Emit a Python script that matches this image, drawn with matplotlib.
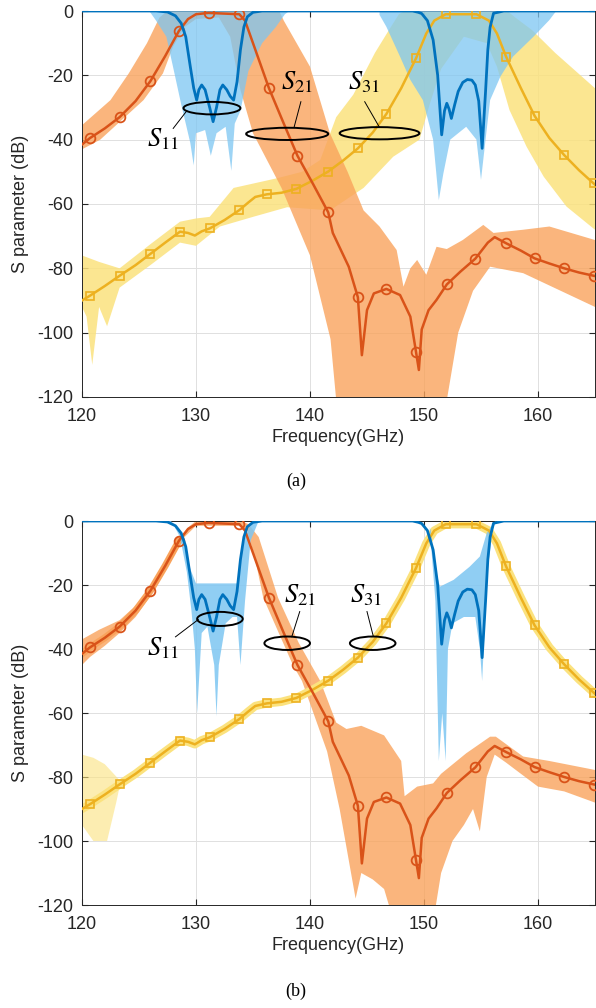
import numpy as np
import matplotlib
matplotlib.use("Agg")
import matplotlib.pyplot as plt
from matplotlib.patches import Ellipse

plt.rcParams["font.family"] = ["Liberation Sans", "DejaVu Sans"]
plt.rcParams["mathtext.fontset"] = "stix"
plt.rcParams["axes.unicode_minus"] = False

# nominal responses (GHz, dB), same design in both panels
s11_f = [120, 126.5, 127.5, 128.2, 128.7, 129.1, 129.5, 129.8, 130.06, 130.25, 130.5, 130.8, 131.2, 131.5,
         131.8, 132.1, 132.35, 132.7, 133.0, 133.3, 133.6, 133.9, 134.2, 134.5, 135.0, 135.8,
         149.0, 149.5, 149.8, 150.3, 150.8, 151.2, 151.55, 151.8, 152.0, 152.2, 152.4, 152.7, 153.0,
         153.4, 153.8, 154.2, 154.5, 154.8, 155.1, 155.4, 155.6, 155.8, 156.1, 157, 165]
s11_db = [0, 0, -0.3, -1.5, -3.8, -8, -17.3, -24, -27.7, -24.5, -23, -24.5, -30, -34.4,
          -30, -24.5, -23, -24.5, -26.5, -27.7, -22, -12, -5, -1.8, -0.4, 0,
          0, -0.4, -0.8, -3, -9, -20, -38.5, -31, -28.7, -30.5, -33.4, -29, -25,
          -22.2, -21.3, -21.5, -23, -28, -42.7, -25, -12, -5, -0.7, 0, 0]

s21_f = [120, 120.7, 122, 123.3, 124.7, 126, 127.3, 128.5, 129.3, 130, 131.1, 133.8, 134.3, 135, 135.7,
         136.4, 137.7, 138.9, 140.3, 141.6, 142.0, 143.4, 144.2, 144.55, 145.0, 145.6, 146.7, 147.9,
         148.8, 149.3, 149.55, 149.8, 150.4, 151.1, 152.0, 153.2, 154.5, 155.6, 156.2, 157.2, 158.5,
         159.7, 161, 162.3, 163.6, 165]
s21_db = [-41.5, -39.5, -36.5, -33, -28, -21.8, -14, -6.2, -2.5, -1, -0.6, -1, -3, -10, -17,
          -24, -35, -45, -54, -62.6, -69, -79.5, -89, -107, -93, -87.8, -86.4, -88.3,
          -95, -106, -111.6, -99, -93, -89.8, -85, -81, -77, -72, -70.3, -72.2, -74.5,
          -76.9, -78.5, -80, -81.3, -82.4]
s21_mk_f = [120.7, 123.3, 126, 128.5, 131.1, 133.8, 136.4, 138.9, 141.6, 144.2, 146.7, 149.3,
            152, 154.5, 157.2, 159.7, 162.3, 164.9]
s21_mk_db = [-39.5, -33, -21.8, -6.2, -0.6, -1, -24, -45, -62.6, -89, -86.4, -106,
             -85, -77, -72.2, -76.9, -80, -82.4]

s31_f = [120, 120.7, 122, 123.3, 124.7, 126, 127.3, 128.6, 129.3, 129.9, 130.5, 131.2, 132.5, 133.8,
         134.6, 135.2, 136.2, 137.5, 138.8, 140.2, 141.6, 142.9, 144.2, 145.5, 146.7, 148, 149.3,
         150.2, 150.9, 151.9, 154.6, 155.7, 156.4, 157.2, 158.5, 159.7, 161, 162.3, 163.6, 165]
s31_db = [-90, -88.5, -85.5, -82.3, -79, -75.5, -72, -68.6, -69, -69.8, -68.5, -67.6, -65, -61.9,
          -59.5, -57.8, -57, -56.5, -55.3, -52.8, -49.9, -46.5, -42.7, -37.8, -32, -24, -14.7,
          -7, -3, -1, -1, -3, -7, -14.2, -24, -32.6, -39.5, -44.8, -49.5, -54]
s31_mk_f = [120.7, 123.3, 126, 128.6, 131.2, 133.8, 136.2, 138.8, 141.6, 144.2, 146.7, 149.3,
            151.9, 154.6, 157.2, 159.7, 162.3, 164.9]
s31_mk_db = [-88.5, -82.3, -75.5, -68.6, -67.6, -61.9, -57, -55.3, -49.9, -42.7, -32, -14.7,
             -1, -1, -14.2, -32.6, -44.8, -53.6]

# Monte Carlo spread, panel (a): upper / lower envelopes
a21_up_f = [120, 122.5, 124.1, 125.7, 126.8, 127.5, 137.3, 137.7, 140, 141.75, 143.3, 144.7, 146.1,
            147.6, 148.2, 148.8, 149.4, 150.2, 151.1, 152, 153.4, 155.2, 156.1, 158.7, 161, 165]
a21_up_db = [-35.5, -27.7, -19.4, -10, -2, 0, 0, -3, -17.3, -38, -50, -62, -67,
             -74.3, -85.7, -80, -77.4, -82, -73.3, -74, -71.2, -66.5, -69, -68, -67, -71.2]
a21_lo_f = [120, 121.6, 125.4, 127.1, 128, 129, 130, 132, 133, 133.9, 135, 137.5, 140, 141.8,
            142.3, 152, 153, 154.3, 155.8, 158.7, 165]
a21_lo_db = [-43, -40, -27.7, -19.4, -11, -5, -2.5, -2, -8, -24.6, -38, -55, -76, -102,
             -121, -121, -100, -87, -79.5, -81.5, -92]

a31_up_f = [120, 121.5, 123.3, 126, 128.6, 130, 131.2, 133.3, 137.1, 139.3, 140.9, 142.3, 143.8,
            145.7, 147, 147.8, 148.3, 157.3, 158, 159.5, 161.5, 165]
a31_up_db = [-76, -78, -80, -72.5, -65.5, -64.5, -64, -55, -52, -50, -46.3, -33, -26,
             -13, -5.5, -1, 0, 0, -2, -6, -13, -24]
a31_lo_f = [120, 120.4, 120.9, 121.5, 122.2, 123.3, 126, 128.6, 130, 132.1, 135, 138, 141.75,
            144.7, 147.3, 149.6, 150.5, 151.5, 153.5, 155.5, 156.4, 157.5, 159, 160.5, 162.5, 165]
a31_lo_db = [-92, -95, -110, -92, -98, -86, -79, -72, -73, -67, -64, -61, -62,
             -55, -45.3, -40, -29, -18, -8, -10, -17.3, -30.8, -42.2, -51.5, -60.8, -68]

a11_up_f = [125.9, 138.2]
a11_up_db = [0, 0]
a11_lo_f = [125.9, 126.5, 127.4, 128.0, 128.7, 129.5, 129.8, 130.0, 130.8, 131.3, 131.8, 132.6,
            133.1, 133.4, 133.9, 134.6, 135.8, 137, 137.8, 138.2]
a11_lo_db = [0, -3, -8, -17.6, -29, -41, -48, -38, -37, -45, -38, -36,
             -49.7, -35, -31, -18.6, -10, -5, -1, 0]
a12_up_f = [146.1, 161.6]
a12_up_db = [0, 0]
a12_lo_f = [146.1, 146.7, 147.9, 148.8, 149.9, 150.8, 151.3, 151.7, 152.3, 153.7, 154.6, 155.0,
            155.4, 155.8, 156.7, 157.8, 159.6, 161, 161.6]
a12_lo_db = [-1.2, -4.9, -14.2, -21.4, -27.7, -40, -58.8, -50.5, -40, -36, -40, -52.5,
             -40, -27.7, -20.4, -14.2, -8, -2.8, 0]

# Monte Carlo spread, panel (b)
b21_up_f = [120, 121.5, 123.3, 124.7, 126, 128.5, 129.3, 130, 134, 134.6, 135.5, 137.2, 139, 140.9,
            142.3, 143.2, 144.5, 146.5, 148, 148.3, 149.4, 150.8, 151.5, 153.7, 155.8, 156.3,
            158.7, 161, 165]
b21_up_db = [-37, -34, -31, -26.5, -20.5, -5.5, -2, 0, 0, -1, -5, -24, -38, -50,
             -63, -65, -64, -67, -75, -86, -83, -82, -79, -72.6, -67.4, -67.4,
             -73.6, -75, -77.8]
b21_lo_f = [120, 120.7, 122, 123.3, 124.7, 126, 127.3, 128.3, 129, 130, 133.8, 134.5, 135.2, 135.9,
            138.5, 139.3, 140.6, 141.5, 142.6, 143.5, 144, 144.5, 145.5, 146.5, 147, 151, 151.5,
            152.5, 153.5, 154.3, 154.9, 155.5, 156.2, 157.2, 158.5, 160, 162.3, 165]
b21_lo_db = [-45, -42.5, -39, -35, -30, -23.5, -15, -9, -5, -1.5, -1.5, -3, -12, -24,
             -45, -50, -63, -72, -90, -108, -118, -110, -112, -115, -121, -121, -110,
             -100, -95, -90, -97, -80, -73, -75.5, -79, -83, -84.5, -88]

b31_up_f = [120, 121, 122, 123.3]
b31_up_db = [-73, -74, -76, -81]
b31_lo_f = [120, 121, 122.2, 123, 123.3]
b31_lo_db = [-95, -100, -100, -88, -83]

b11_up_f = [127.8, 128.8, 129.5, 130.0, 133.6, 133.9, 134.3, 134.8, 135.5]
b11_up_db = [0, -4, -15, -19.5, -19.5, -12, -5, -1, 0]
b11_lo_f = [127.5, 128.0, 128.6, 129.2, 129.6, 129.9, 130.1, 130.5, 131.0, 131.6, 131.8, 132.0,
            132.6, 133.2, 133.6, 133.9, 134.3, 134.8, 135.5]
b11_lo_db = [0, -1, -5, -16, -28, -40, -60, -35, -33, -45, -61, -45,
             -32, -30, -30, -45, -25, -6, 0]
b12_up_f = [150.6, 151.0, 151.4, 152.6, 154, 154.9, 155.5, 156.1, 156.3]
b12_up_db = [-3, -15, -20.5, -18.4, -14.3, -11.1, -3.8, -0.7, 0]
b12_lo_f = [150.5, 151.0, 151.3, 151.6, 151.9, 152.1, 152.5, 153.5, 154.5, 154.9, 155.1, 155.3,
            155.6, 156.0, 156.3]
b12_lo_db = [-2, -25, -75, -60, -75, -40, -32, -30, -30, -40, -50, -35,
             -15, -3, 0]

# annotation ellipses: (label, centre f, centre dB, width GHz, height dB, text f, text dB, leader)
ann_a = [("11", 131.4, -30.2, 5.0, 3.9, 125.7, -39.8, (128.0, -36.5, 129.2, -31.0)),
         ("21", 138.0, -38.2, 7.2, 3.8, 137.5, -22.0, (139.2, -28.2, 138.6, -36.2)),
         ("31", 146.1, -38.0, 7.0, 3.8, 143.3, -22.0, (144.8, -28.2, 146.1, -36.2))]
ann_b = [("11", 132.1, -30.6, 4.0, 4.4, 125.7, -39.7, (128.2, -36.2, 130.2, -30.8)),
         ("21", 138.0, -38.2, 4.0, 4.2, 137.7, -23.1, (139.1, -28.3, 138.4, -36.2)),
         ("31", 145.5, -38.2, 4.0, 4.2, 143.5, -23.1, (145.0, -28.3, 145.55, -36.0))]

C11, C21, C31 = "#0072BD", "#D95319", "#EDB120"
L11, L21, L31 = "#7DC6F2", "#F9A35C", "#FBE27E"


def band(ax, uf, uy, lf, ly, color, alpha, z):
    xs = list(uf) + list(lf)[::-1]
    ys = list(uy) + list(ly)[::-1]
    ax.fill(xs, ys, color=color, alpha=alpha, lw=0, zorder=z)


def panel(ax, bands, ann, wide):
    for uf, uy, lf, ly, col, al, z in bands:
        band(ax, uf, uy, lf, ly, col, al, z)
    if not wide:
        ax.plot(s31_f, s31_db, color=L31, lw=6, solid_capstyle="round", zorder=2)
        ax.plot(s21_f[:8], s21_db[:8], color=L21, lw=5, zorder=2)
    ax.plot(s31_f, s31_db, color=C31, lw=1.8, zorder=5)
    ax.plot(s31_mk_f, s31_mk_db, ls="none", marker="s", ms=6, mfc="none", mec=C31, mew=1.2, zorder=5)
    ax.plot(s21_f, s21_db, color=C21, lw=1.8, zorder=6)
    ax.plot(s21_mk_f, s21_mk_db, ls="none", marker="o", ms=7, mfc="none", mec=C21, mew=1.3, zorder=6)
    ax.plot(s11_f, s11_db, color=C11, lw=2.0, zorder=7)

    for lab, cx, cy, w, h, tx, ty, (x0, y0, x1, y1) in ann:
        ax.add_patch(Ellipse((cx, cy), w, h, fill=False, ec="black", lw=1.4, zorder=8))
        ax.text(tx, ty, r"$S_{%s}$" % lab, fontsize=19, va="center", ha="left", zorder=9)
        ax.plot([x0, x1], [y0, y1], color="black", lw=0.7, zorder=8)

    ax.set_xlim(120, 165)
    ax.set_ylim(-120, 0)
    ax.set_xticks([120, 130, 140, 150, 160])
    ax.set_yticks([-120, -100, -80, -60, -40, -20, 0])
    ax.grid(True, color="#e0e0e0", lw=0.7)
    ax.set_axisbelow(True)
    ax.tick_params(direction="in", labelsize=13, colors="#262626", length=4, top=True, right=True)
    ax.tick_params(axis="x", pad=8)
    ax.tick_params(axis="y", pad=6)
    for s in ax.spines.values():
        s.set_color("#262626")
        s.set_linewidth(0.7)
    ax.set_xlabel("Frequency(GHz)", fontsize=13, color="#262626", labelpad=3)
    ax.set_ylabel("S parameter (dB)", fontsize=13, color="#262626", labelpad=6)


fig = plt.figure(figsize=(5.96, 10.08), dpi=100)
ax1 = fig.add_axes([82 / 596, 1 - 397 / 1008, 513 / 596, 386 / 1008])
ax2 = fig.add_axes([82 / 596, 1 - 905 / 1008, 513 / 596, 384 / 1008])

bands_a = [(a31_up_f, a31_up_db, a31_lo_f, a31_lo_db, L31, 0.85, 1),
           (a21_up_f, a21_up_db, a21_lo_f, a21_lo_db, L21, 0.8, 2),
           (a11_up_f, a11_up_db, a11_lo_f, a11_lo_db, L11, 0.75, 3),
           (a12_up_f, a12_up_db, a12_lo_f, a12_lo_db, L11, 0.75, 3)]
bands_b = [(b31_up_f, b31_up_db, b31_lo_f, b31_lo_db, L31, 0.6, 1),
           (b21_up_f, b21_up_db, b21_lo_f, b21_lo_db, L21, 0.8, 2),
           (b11_up_f, b11_up_db, b11_lo_f, b11_lo_db, L11, 0.85, 3),
           (b12_up_f, b12_up_db, b12_lo_f, b12_lo_db, L11, 0.85, 3)]

panel(ax1, bands_a, ann_a, True)
panel(ax2, bands_b, ann_b, False)

fig.text(0.497, 1 - 481 / 1008, "(a)", fontsize=13, family="Liberation Serif", ha="center", va="center")
fig.text(0.497, 1 - 991 / 1008, "(b)", fontsize=13, family="Liberation Serif", ha="center", va="center")

fig.savefig("out.png", dpi=100)
